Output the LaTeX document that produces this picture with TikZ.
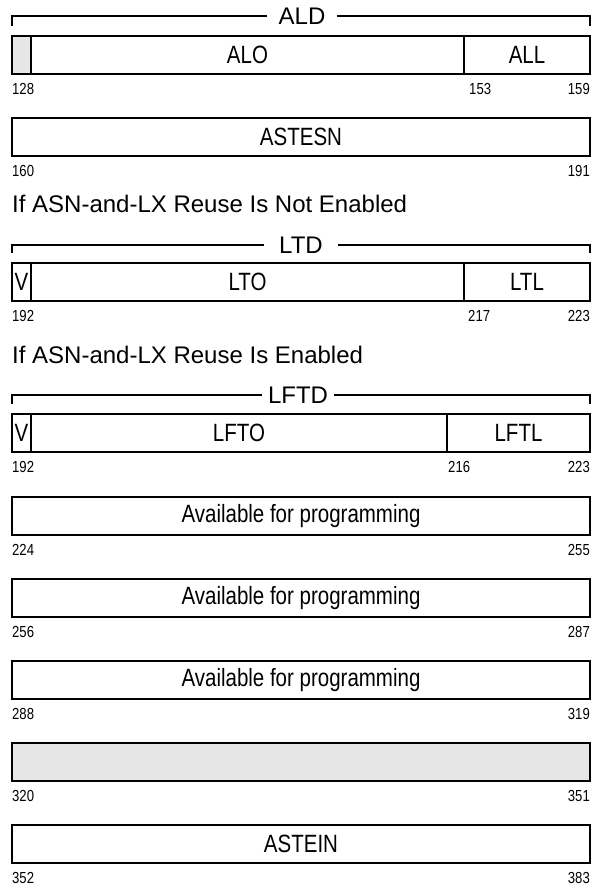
\documentclass[tikz,border=0pt]{standalone}
\usepackage{fontspec}
\setmainfont{Liberation Sans}
\newfontfamily\narrowfont[FakeStretch=0.82]{Liberation Sans}
\usepackage{tikz}
\usetikzlibrary{positioning,calc}
\definecolor{cellgrey}{RGB}{230,230,230}
\tikzset{
  field/.style={draw, line width=1.8pt, inner sep=0pt, outer sep=0pt,
                minimum height=38pt, anchor=north west,
                font=\narrowfont\fontsize{25}{28}\selectfont},
  bitnum/.style={inner sep=0pt, font=\narrowfont\fontsize{16}{18}\selectfont},
  brlabel/.style={inner xsep=11pt, inner ysep=0pt, font=\fontsize{24}{28}\selectfont},
  bracket/.style={line width=1.4pt},
  heading/.style={anchor=west, inner sep=0pt, font=\fontsize{24}{28}\selectfont},
}

\begin{document}
\begin{tikzpicture}[x=1pt, y=-1pt]
  \useasboundingbox (0,0) rectangle (594,888);

  % ALD word
  \node[field, fill=cellgrey, minimum width=19pt] (aldv) at (12,36) {};
  \node[field, minimum width=433pt, right=0pt of aldv] (alo) {ALO};
  \node[field, minimum width=126pt, right=0pt of alo] (all) {ALL};
  \node[brlabel] (ald) at (302,16) {ALD};
  \draw[bracket] (ald.west) -| ([yshift=10pt]aldv.north west);
  \draw[bracket] (ald.east) -| ([yshift=10pt]all.north east);
  \node[bitnum, anchor=west] (n128) at ([yshift=-15pt]aldv.south west) {128};
  \node[bitnum, anchor=west] (n153) at ([xshift=5pt,yshift=-15pt]all.south west) {153};
  \node[bitnum, anchor=east] (n159) at ([yshift=-15pt]all.south east) {159};

  \node[field, minimum width=578pt] (astesn) at (12,118) {ASTESN};
  \node[bitnum, anchor=west] (n160) at ([yshift=-15pt]astesn.south west) {160};
  \node[bitnum, anchor=east] (n191) at ([yshift=-15pt]astesn.south east) {191};

  % reuse not enabled
  \node[heading] (hdoff) at (12,204) {If ASN-and-LX Reuse Is Not Enabled};
  \node[field, minimum width=19pt] (ltv) at (12,263) {V};
  \node[field, minimum width=433pt, right=0pt of ltv] (lto) {LTO};
  \node[field, minimum width=126pt, right=0pt of lto] (ltl) {LTL};
  \node[brlabel, inner xsep=15pt] (ltd) at (301,245) {LTD};
  \draw[bracket] (ltd.west) -| ([yshift=10pt]ltv.north west);
  \draw[bracket] (ltd.east) -| ([yshift=10pt]ltl.north east);
  \node[bitnum, anchor=west] (n192a) at ([yshift=-15pt]ltv.south west) {192};
  \node[bitnum, anchor=west] (n217) at ([xshift=4pt,yshift=-15pt]ltl.south west) {217};
  \node[bitnum, anchor=east] (n223a) at ([yshift=-15pt]ltl.south east) {223};

  % reuse enabled
  \node[heading] (hdon) at (12,355) {If ASN-and-LX Reuse Is Enabled};
  \node[field, minimum width=19pt] (lftv) at (12,414) {V};
  \node[field, minimum width=416pt, right=0pt of lftv] (lfto) {LFTO};
  \node[field, minimum width=143pt, right=0pt of lfto] (lftl) {LFTL};
  \node[brlabel, inner xsep=6pt] (lftd) at (298,395) {LFTD};
  \draw[bracket] (lftd.west) -| ([yshift=10pt]lftv.north west);
  \draw[bracket] (lftd.east) -| ([yshift=10pt]lftl.north east);
  \node[bitnum, anchor=west] (n192b) at ([yshift=-15pt]lftv.south west) {192};
  \node[bitnum, anchor=west] (n216) at ([xshift=1pt,yshift=-15pt]lftl.south west) {216};
  \node[bitnum, anchor=east] (n223b) at ([yshift=-15pt]lftl.south east) {223};

  \node[field, minimum width=578pt] (avail1) at (12,497) {Available for programming};
  \node[bitnum, anchor=west] (n224) at ([yshift=-15pt]avail1.south west) {224};
  \node[bitnum, anchor=east] (n255) at ([yshift=-15pt]avail1.south east) {255};

  \node[field, minimum width=578pt] (avail2) at (12,579) {Available for programming};
  \node[bitnum, anchor=west] (n256) at ([yshift=-15pt]avail2.south west) {256};
  \node[bitnum, anchor=east] (n287) at ([yshift=-15pt]avail2.south east) {287};

  \node[field, minimum width=578pt] (avail3) at (12,661) {Available for programming};
  \node[bitnum, anchor=west] (n288) at ([yshift=-15pt]avail3.south west) {288};
  \node[bitnum, anchor=east] (n319) at ([yshift=-15pt]avail3.south east) {319};

  \node[field, minimum width=578pt, fill=cellgrey] (resv) at (12,743) {};
  \node[bitnum, anchor=west] (n320) at ([yshift=-15pt]resv.south west) {320};
  \node[bitnum, anchor=east] (n351) at ([yshift=-15pt]resv.south east) {351};

  \node[field, minimum width=578pt] (astein) at (12,825) {ASTEIN};
  \node[bitnum, anchor=west] (n352) at ([yshift=-15pt]astein.south west) {352};
  \node[bitnum, anchor=east] (n383) at ([yshift=-15pt]astein.south east) {383};
\end{tikzpicture}
\end{document}
